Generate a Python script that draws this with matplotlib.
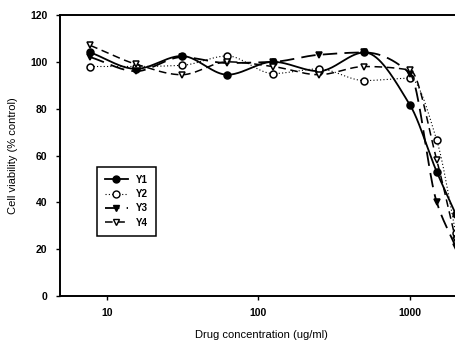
import numpy as np
import matplotlib
matplotlib.use("Agg")
import matplotlib.pyplot as plt
from matplotlib.ticker import FixedLocator, NullLocator

# Drug concentrations (ug/ml) and viability (% control)
conc = [7.8, 15.6, 31.25, 62.5, 125, 250, 500, 1000, 1500, 2000]
y1 = [104, 97, 102.5, 94.5, 100, 96, 104, 81.5, 53, 35]
y2 = [98, 98, 98.5, 102.5, 95, 97, 92, 93, 66.5, 27]
y3 = [102, 96, 102, 99.5, 100, 103, 104, 95, 40, 21]
y4 = [107, 99, 94.5, 100, 98, 94.5, 98, 96.5, 58, 24]

labels = ["Y1", "Y2", "Y3", "Y4"]


def smooth(x, y, n=300):
    # monotone cubic (PCHIP) through the points in log-x space
    lx = np.log10(x)
    y = np.asarray(y, float)
    h = np.diff(lx)
    d = np.diff(y) / h
    m = np.zeros(len(y))
    for i in range(1, len(y) - 1):
        if d[i - 1] * d[i] > 0:
            w1 = 2 * h[i] + h[i - 1]
            w2 = h[i] + 2 * h[i - 1]
            m[i] = (w1 + w2) / (w1 / d[i - 1] + w2 / d[i])
    m[0] = d[0]
    m[-1] = d[-1]
    xs = np.linspace(lx[0], lx[-1], n)
    idx = np.clip(np.searchsorted(lx, xs) - 1, 0, len(lx) - 2)
    hh = h[idx]
    t = (xs - lx[idx]) / hh
    h00 = 2 * t**3 - 3 * t**2 + 1
    h10 = t**3 - 2 * t**2 + t
    h01 = -2 * t**3 + 3 * t**2
    h11 = t**3 - t**2
    ys = h00 * y[idx] + h10 * hh * m[idx] + h01 * y[idx + 1] + h11 * hh * m[idx + 1]
    return 10**xs, ys


plt.rcParams["font.family"] = ["Liberation Sans", "DejaVu Sans"]
plt.rcParams["font.weight"] = "bold"

fig = plt.figure(figsize=(4.56, 3.41), dpi=100)
ax = fig.add_axes([60 / 456, 1 - 296 / 341, 402 / 456, 281 / 341])

styles = [
    dict(ls="-", marker="o", mfc="black", lw=1.3),
    dict(ls=(0, (1, 2)), marker="o", mfc="white", lw=0.8),
    dict(ls=(0, (8, 4)), marker="v", mfc="black", lw=1.3),
    dict(ls=(0, (5, 3)), marker="v", mfc="white", lw=1.1),
]

handles = []
for ys, lab, st in zip([y1, y2, y3, y4], labels, styles):
    sx, sy = smooth(conc, ys)
    ax.plot(sx, sy, color="black", ls=st["ls"], lw=st["lw"])
    ax.plot(conc, ys, ls="none", marker=st["marker"], mfc=st["mfc"],
            mec="black", mew=1.1, ms=5)
    h, = ax.plot([], [], color="black", ls=st["ls"], lw=st["lw"],
                 marker=st["marker"], mfc=st["mfc"], mec="black", ms=5)
    handles.append(h)

ax.set_xscale("log")
ax.set_xlim(4.92, 2200)
ax.set_ylim(0, 120)
ax.xaxis.set_major_locator(FixedLocator([10, 100, 1000]))
ax.xaxis.set_minor_locator(NullLocator())
ax.set_xticklabels(["10", "100", "1000"])
ax.set_yticks([0, 20, 40, 60, 80, 100, 120])
ax.tick_params(direction="out", length=3, width=1, labelsize=7.5, pad=6)
for side in ["left", "bottom", "top"]:
    ax.spines[side].set_linewidth(1.4)
ax.spines["right"].set_visible(False)

ax.set_xlabel("Drug concentration (ug/ml)", fontsize=8, labelpad=8)
ax.set_ylabel("Cell viability (% control)", fontsize=8, labelpad=9)

leg = ax.legend(handles, labels, loc="upper left",
                bbox_to_anchor=(32 / 402, (296 - 162) / 281),
                fontsize=7, handlelength=2.4, handletextpad=0.8,
                labelspacing=0.45, borderpad=0.8, fancybox=False,
                edgecolor="black", framealpha=1)
leg.get_frame().set_linewidth(1.1)

fig.savefig("out.png", dpi=100)
